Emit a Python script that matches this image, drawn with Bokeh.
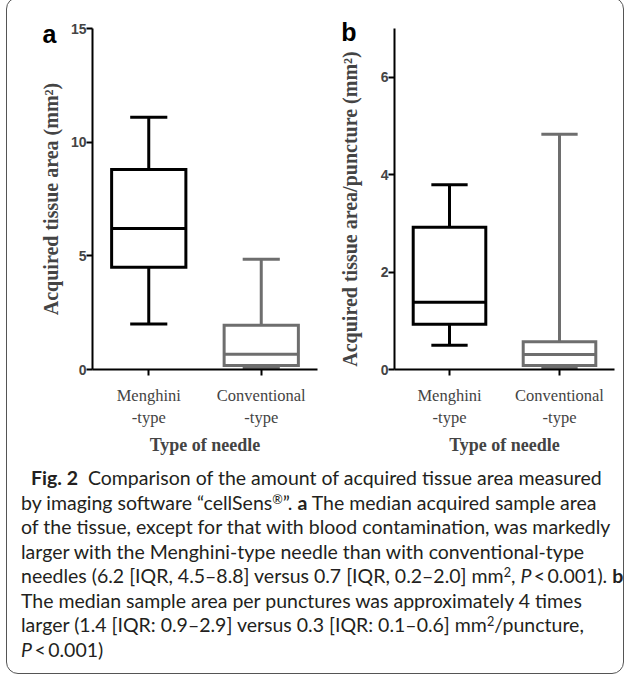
from bokeh.plotting import figure
from bokeh.models import Div, FixedTicker, LinearAxis
from bokeh.layouts import column, row
from bokeh.embed import file_html
from bokeh.resources import INLINE

# ---------------- data ----------------
categories = ["Menghini\n-type", "Conventional\n-type"]
cat_pos = [0.5, 1.5]
colors = ["#000000", "#6e6e6e"]

# panel a: acquired tissue area (mm2) -> lower whisker, Q1, median, Q3, upper whisker
a_low = [2.0, 0.05]
a_q1 = [4.5, 0.18]
a_med = [6.2, 0.67]
a_q3 = [8.8, 1.95]
a_high = [11.1, 4.85]
a_ticks = [0, 5, 10, 15]

# panel b: acquired tissue area per puncture (mm2)
b_low = [0.5, 0.02]
b_q1 = [0.93, 0.08]
b_med = [1.38, 0.31]
b_q3 = [2.92, 0.57]
b_high = [3.79, 4.83]
b_ticks = [0, 2, 4, 6]

BOX_W = 0.66
CAP_W = 0.33
NB = "\u00a0"


def make_panel(letter, letter_pos, letter_standoff, ylabel, ymax, ticks,
               low, q1, med, q3, high,
               width, mb_left, mb_right, mb_top, mb_bottom, height, ylab_standoff):
    p = figure(width=width, height=height, x_range=(0, 2), y_range=(0, ymax),
               output_backend="svg", toolbar_location=None,
               min_border_left=mb_left, min_border_right=mb_right,
               min_border_top=mb_top, min_border_bottom=mb_bottom)
    p.outline_line_color = None
    p.grid.visible = False
    p.background_fill_color = None
    p.border_fill_color = None

    lefts = [c - BOX_W / 2 for c in cat_pos]
    rights = [c + BOX_W / 2 for c in cat_pos]
    cl = [c - CAP_W / 2 for c in cat_pos]
    cr = [c + CAP_W / 2 for c in cat_pos]
    # whiskers
    p.segment(x0=cat_pos, y0=q3, x1=cat_pos, y1=high, line_color=colors, line_width=3)
    p.segment(x0=cat_pos, y0=low, x1=cat_pos, y1=q1, line_color=colors, line_width=3)
    p.segment(x0=cl, y0=high, x1=cr, y1=high, line_color=colors, line_width=3)
    p.segment(x0=cl, y0=low, x1=cr, y1=low, line_color=colors, line_width=3)
    # boxes
    p.quad(left=lefts, right=rights, bottom=q1, top=q3, fill_color="white",
           line_color=colors, line_width=3, line_join="miter")
    p.segment(x0=lefts, y0=med, x1=rights, y1=med, line_color=colors, line_width=3)

    # axes
    for ax in (p.xaxis[0], p.yaxis[0]):
        ax.axis_line_width = 2
        ax.axis_line_color = "black"
        ax.major_tick_line_width = 2
        ax.major_tick_line_color = "black"
        ax.major_tick_in = 0
        ax.major_tick_out = 6
        ax.minor_tick_line_color = None
    p.yaxis.ticker = FixedTicker(ticks=ticks)
    p.yaxis.major_label_text_font = "Liberation Sans"
    p.yaxis.major_label_text_font_style = "bold"
    p.yaxis.major_label_text_font_size = "14px"
    p.yaxis.major_label_standoff = 0
    p.yaxis.axis_label = ylabel
    p.yaxis.axis_label_text_font = "Liberation Serif"
    p.yaxis.axis_label_text_font_style = "bold"
    p.yaxis.axis_label_text_font_size = "20px"
    p.yaxis.axis_label_standoff = ylab_standoff

    p.xaxis.ticker = FixedTicker(ticks=cat_pos)
    p.xaxis.major_label_overrides = {cat_pos[i]: categories[i] for i in range(2)}
    p.xaxis.major_label_text_font = "Liberation Serif"
    p.xaxis.major_label_text_font_size = "16.5px"
    p.xaxis.major_label_standoff = 10
    p.xaxis.axis_label = "Type of needle"
    p.xaxis.axis_label_text_font = "Liberation Serif"
    p.xaxis.axis_label_text_font_style = "bold"
    p.xaxis.axis_label_text_font_size = "18px"
    p.xaxis.axis_label_standoff = 5

    # panel letter ("a" / "b") drawn as the only label of a bare outer axis
    lab_ax = LinearAxis(ticker=FixedTicker(ticks=[letter_pos]),
                        major_label_overrides={letter_pos: letter},
                        axis_line_color=None, major_tick_line_color=None,
                        minor_tick_line_color=None, major_tick_in=0, major_tick_out=0,
                        major_label_text_font="Liberation Sans",
                        major_label_text_font_style="bold",
                        major_label_text_font_size="25px",
                        major_label_text_color="black",
                        major_label_standoff=letter_standoff)
    p.add_layout(lab_ax, "left")
    return p


pa = make_panel("a", 14.77, -20, "Acquired tissue area (mm²)", 15, a_ticks,
                a_low, a_q1, a_med, a_q3, a_high,
                width=312, mb_left=85, mb_right=2, mb_top=28, mb_bottom=84, height=460,
                ylab_standoff=6)
pb = make_panel("b", 6.93, -21, "Acquired tissue area/puncture (mm²)" + NB * 4, 7, b_ticks,
                b_low, b_q1, b_med, b_q3, b_high,
                width=304, mb_left=75, mb_right=9, mb_top=30, mb_bottom=84, height=460,
                ylab_standoff=17)

SUP = "<span style='position:relative;top:-0.45em;font-size:65%;line-height:0'>{}</span>"
caption = (
    "<div style='padding-left:10px'><b>Fig. 2</b>&nbsp; Comparison of the amount of acquired tissue area measured</div>"
    "<div>by imaging software “cellSens" + SUP.format("®") + "”. <b>a</b> The median acquired sample area</div>"
    "<div>of the tissue, except for that with blood contamination, was markedly</div>"
    "<div>larger with the Menghini-type needle than with conventional-type</div>"
    "<div>needles (6.2 [IQR, 4.5–8.8] versus 0.7 [IQR, 0.2–2.0] mm" + SUP.format("2")
    + ", <i>P</i>&thinsp;&lt;&thinsp;0.001). <b>b</b></div>"
    "<div>The median sample area per punctures was approximately 4 times</div>"
    "<div>larger (1.4 [IQR: 0.9–2.9] versus 0.3 [IQR: 0.1–0.6] mm" + SUP.format("2") + "/puncture,</div>"
    "<div><i>P</i>&thinsp;&lt;&thinsp;0.001)</div>"
)
cap = Div(text=caption, width=606, height=205,
          styles={"font-family": "Lato", "font-size": "19.5px", "line-height": "24.5px",
                  "color": "#231f20", "white-space": "nowrap", "padding-left": "9px",
                  "padding-top": "3px"})

layout = column(row(pa, pb), cap,
                styles={"border": "1px solid #555555", "border-radius": "12px",
                        "margin-left": "6px", "margin-top": "-3px"})

open("out.html", "w").write(file_html(layout, INLINE))
